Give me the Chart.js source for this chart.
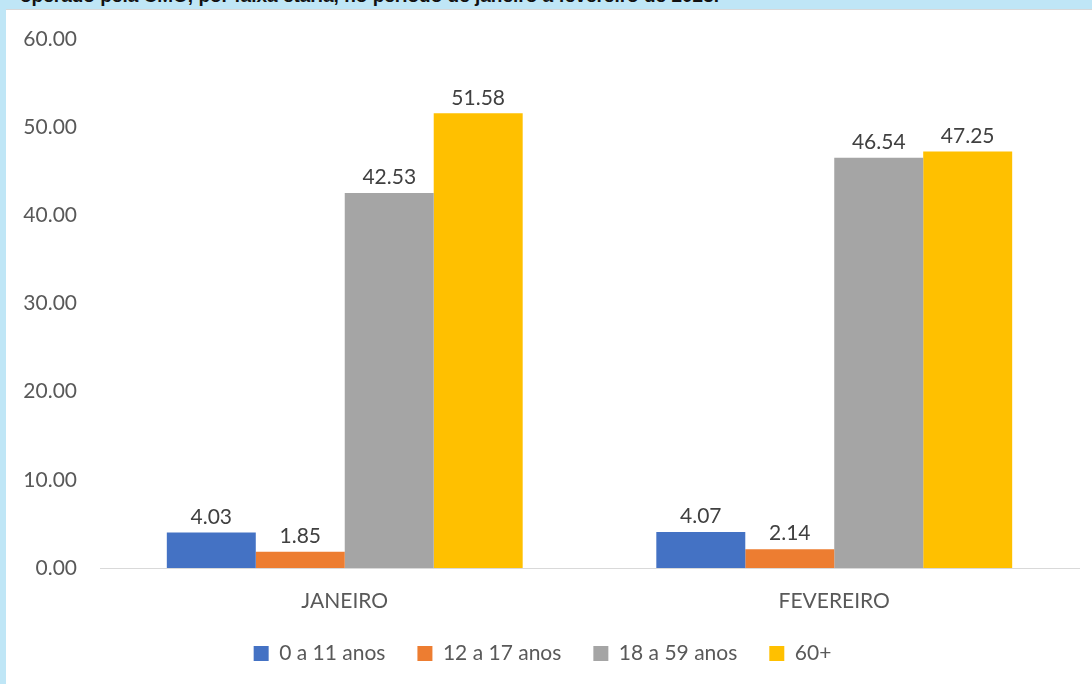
<!DOCTYPE html>
<html><head><meta charset="utf-8">
<script src="https://cdn.jsdelivr.net/npm/chart.js@4"></script>
<style>
html,body{margin:0;padding:0;width:1092px;height:684px;overflow:hidden;background:#bfe6f6;}
#title{position:absolute;left:0;top:-15px;width:1092px;height:20px;font:bold 19px "Liberation Sans",Arial,sans-serif;color:#111;white-space:nowrap;padding-left:20px;}
#box{position:absolute;left:6px;top:9px;width:1086px;height:675px;background:#fff;border-top:1px solid #d8d8d8;}
</style></head><body>
<div id="title">operado pela CMO, por faixa etária, no período de janeiro a fevereiro de 2023.</div>
<div id="box"><canvas id="c" width="1086" height="675"></canvas></div>
<script>
const categories = ["JANEIRO", "FEVEREIRO"];
const seriesNames = ["0 a 11 anos", "12 a 17 anos", "18 a 59 anos", "60+"];
const s0 = [4.03, 4.07];
const s1 = [1.85, 2.14];
const s2 = [42.53, 46.54];
const s3 = [51.58, 47.25];
const colors = ["#4472c4", "#ed7d31", "#a5a5a5", "#ffc000"];
const FONT = "Lato, 'Open Sans', sans-serif";
const FS = 21;

const labelPlugin = {
  id: 'vals',
  afterDatasetsDraw(chart) {
    const ctx = chart.ctx;
    ctx.save();
    ctx.font = FS + "px " + FONT;
    ctx.fillStyle = "#404040";
    ctx.textAlign = "center";
    ctx.textBaseline = "bottom";
    chart.data.datasets.forEach((ds, i) => {
      chart.getDatasetMeta(i).data.forEach((bar, j) => {
        ctx.fillText(ds.data[j].toFixed(2), bar.x, bar.y - 5);
      });
    });
    ctx.restore();
  }
};

new Chart(document.getElementById('c'), {
  type: 'bar',
  data: {
    labels: categories,
    datasets: [s0, s1, s2, s3].map((d, i) => ({
      label: seriesNames[i], data: d, backgroundColor: colors[i],
      categoryPercentage: 0.727, barPercentage: 1.0
    }))
  },
  options: {
    responsive: false, animation: false,
    layout: { padding: { top: 29, right: 13, bottom: 11, left: 0 } },
    plugins: {
      legend: {
        position: 'bottom',
        labels: { font: { size: FS, family: FONT }, color: '#595959', boxWidth: 15, boxHeight: 15, padding: 32 }
      },
      tooltip: { enabled: false }
    },
    scales: {
      x: {
        grid: { display: false, drawTicks: false },
        border: { display: true, color: '#d9d9d9' },
        ticks: { font: { size: FS, family: FONT }, color: '#595959', padding: 21 },
        afterFit: s => { s.height = 43; }
      },
      y: {
        min: 0, max: 60,
        grid: { display: false, drawTicks: false },
        border: { display: false },
        ticks: { stepSize: 10, callback: v => v.toFixed(2), font: { size: FS, family: FONT }, color: '#595959', padding: 23 },
        afterFit: s => { s.width = 94; s.paddingTop = 0; s.paddingBottom = 0; }
      }
    }
  },
  plugins: [labelPlugin]
});
</script>
</body></html>
